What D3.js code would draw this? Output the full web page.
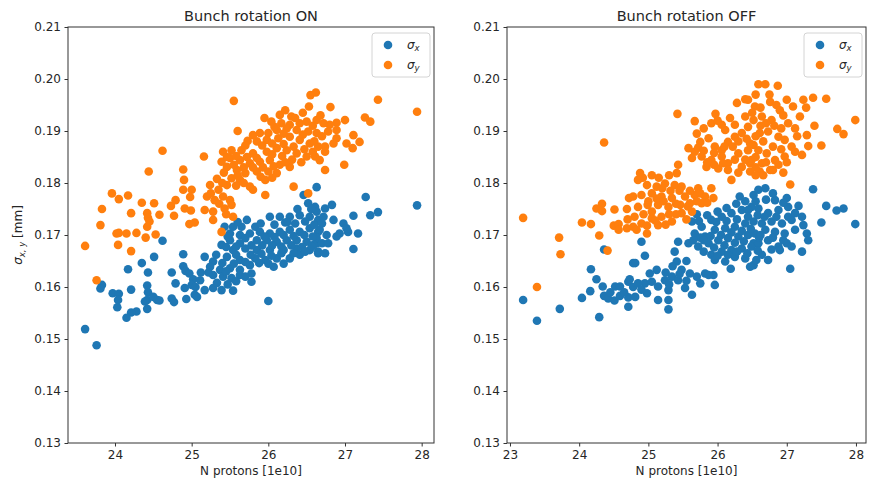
<!DOCTYPE html>
<html>
<head>
<meta charset="utf-8">
<script src="https://cdn.jsdelivr.net/npm/d3@7"></script>
<style>
  html, body { margin: 0; padding: 0; background: #fff; }
  svg { display: block; font-family: "DejaVu Sans", sans-serif; }
</style>
</head>
<body>
<svg id="fig" width="869" height="483"></svg>
<script>
// Beam size vs bunch intensity, [N protons (1e10), sigma (mm)]
const onSigmaX = [
  [24.62,0.1689],[24.51,0.1658],[24.89,0.1663],[24.35,0.1646],[24.17,0.1634],[24.43,0.1628],[24.74,0.1628],[24.89,0.1640],[24.92,0.1631],[24.97,0.1626],[25.02,0.1615],[25.00,0.1604],[24.79,0.1607],[23.83,0.1604],[23.81,0.1597],[23.97,0.1588],[24.05,0.1587],[24.04,0.1575],[24.03,0.1561],[24.21,0.1595],[24.42,0.1603],[24.43,0.1590],[24.42,0.1575],[24.50,0.1581],[24.55,0.1575],[24.58,0.1574],[24.39,0.1572],[24.42,0.1558],[24.74,0.1578],[24.77,0.1571],[24.93,0.1577],[24.91,0.1598],[25.04,0.1585],[24.28,0.1553],[24.21,0.1551],[24.15,0.1541],[23.61,0.1519],[23.76,0.1488],
  [26.63,0.1792],[26.46,0.1777],[26.52,0.1761],[26.61,0.1754],[26.00,0.1573],
  [25.72,0.1729],[25.83,0.1716],[26.02,0.1735],[26.15,0.1735],[26.28,0.1735],[26.41,0.1738],[26.54,0.1735],[26.65,0.1729],[25.43,0.1716],[25.54,0.1716],[25.65,0.1716],[25.50,0.1703],[25.63,0.1700],[25.76,0.1703],[25.89,0.1706],[26.02,0.1703],[26.15,0.1706],[26.28,0.1710],[26.41,0.1706],[26.54,0.1713],[26.65,0.1706],[25.39,0.1681],[25.50,0.1690],[25.63,0.1684],[25.85,0.1690],[25.98,0.1690],[26.11,0.1687],[26.24,0.1690],[26.37,0.1690],[26.50,0.1687],[26.63,0.1684],[25.54,0.1671],[25.70,0.1674],[25.85,0.1671],[26.02,0.1671],[26.20,0.1671],[26.37,0.1674],[26.54,0.1671],[26.65,0.1665],[25.17,0.1658],[25.28,0.1649],[25.46,0.1658],[25.63,0.1652],[25.83,0.1655],[25.96,0.1652],[26.11,0.1655],[26.28,0.1655],[26.41,0.1662],[26.07,0.1639],[25.24,0.1639],[25.37,0.1633],[25.50,0.1636],[25.63,0.1633],[25.76,0.1642],[25.28,0.1623],[25.41,0.1620],[25.52,0.1617],[25.63,0.1623],[25.11,0.1613],[25.78,0.1626],[25.78,0.1610],[25.17,0.1594],[25.28,0.1598],[25.39,0.1594],[25.54,0.1593],[25.07,0.1581],
  [27.27,0.1773],[27.94,0.1757],[27.33,0.1738],[27.43,0.1744],[27.11,0.1737],[26.83,0.1758],[26.74,0.1751],[26.63,0.1745],[26.85,0.1729],[26.98,0.1722],[27.02,0.1713],[26.93,0.1703],[27.04,0.1706],[27.17,0.1703],[26.89,0.1697],[26.72,0.1735],[26.67,0.1710],[26.76,0.1700],[26.63,0.1694],[26.70,0.1684],[26.78,0.1684],[26.59,0.1681],[26.65,0.1668],[26.74,0.1665],[27.11,0.1673],
  [25.60,0.1725],[25.90,0.1722],[26.08,0.1720],[26.22,0.1724],[26.35,0.1722],[26.48,0.1726],[26.60,0.1720],[25.47,0.1697],[25.70,0.1694],[25.95,0.1697],[26.08,0.1696],[26.20,0.1700],[26.33,0.1698],[26.47,0.1700],[26.58,0.1697],[25.45,0.1677],[25.58,0.1678],[25.78,0.1680],[25.92,0.1680],[26.05,0.1680],[26.17,0.1678],[26.30,0.1680],[26.44,0.1677],[26.57,0.1678],[25.58,0.1662],[25.77,0.1662],[25.91,0.1664],[26.04,0.1660],[26.17,0.1665],[26.33,0.1665],[26.48,0.1668],[25.32,0.1662],[25.40,0.1646],[25.55,0.1645],[25.70,0.1648],[25.88,0.1646],[26.00,0.1645],[26.20,0.1645],[25.22,0.1628],[25.45,0.1630],[25.58,0.1611],[25.70,0.1620],[25.33,0.1608],[25.47,0.1605],[25.05,0.1600],[25.12,0.1628],[26.25,0.1725],[26.56,0.1750],[26.70,0.1722],[26.38,0.1750]
];
const onSigmaY = [
  [24.62,0.1862],[24.44,0.1822],[24.89,0.1826],[24.90,0.1806],[24.89,0.1787],[25.00,0.1787],[24.98,0.1773],[23.96,0.1780],[24.05,0.1769],[24.17,0.1776],[23.83,0.1750],[24.21,0.1742],[24.35,0.1762],[24.51,0.1761],[24.42,0.1742],[24.43,0.1733],[24.42,0.1716],[24.45,0.1726],[24.58,0.1739],[24.77,0.1737],[24.73,0.1756],[24.79,0.1767],[24.91,0.1751],[24.99,0.1747],[24.97,0.1721],[25.04,0.1724],[23.81,0.1719],[24.02,0.1703],[24.05,0.1704],[24.15,0.1703],[24.28,0.1704],[24.40,0.1695],[24.53,0.1701],[23.61,0.1679],[24.04,0.1681],[24.21,0.1669],[23.76,0.1613],
  [25.55,0.1958],[26.55,0.1969],[26.62,0.1974],[26.53,0.1947],[25.60,0.1900],[25.73,0.1881],[25.16,0.1851],
  [26.15,0.1931],[26.30,0.1928],[26.04,0.1918],[26.17,0.1915],[26.28,0.1912],[26.41,0.1915],[26.50,0.1918],[26.63,0.1921],[25.89,0.1896],[26.00,0.1896],[26.11,0.1902],[26.24,0.1905],[26.37,0.1902],[26.52,0.1899],[26.63,0.1896],[25.85,0.1880],[25.98,0.1883],[26.13,0.1886],[26.28,0.1889],[26.41,0.1883],[26.54,0.1876],[26.65,0.1870],[25.98,0.1860],[26.11,0.1867],[26.24,0.1863],[26.37,0.1857],[26.50,0.1851],[26.61,0.1851],[25.41,0.1860],[25.52,0.1863],[25.65,0.1863],[25.80,0.1857],[25.50,0.1848],[25.63,0.1844],[25.76,0.1838],[25.89,0.1841],[26.02,0.1844],[26.15,0.1835],[26.28,0.1831],[26.00,0.1822],[26.11,0.1819],[25.39,0.1841],[25.46,0.1831],[25.59,0.1825],[25.70,0.1819],[25.85,0.1822],[25.96,0.1806],[26.33,0.1793],[25.52,0.1809],[25.63,0.1806],[25.76,0.1793],[25.80,0.1787],[25.46,0.1796],[25.35,0.1787],[25.24,0.1796],[25.20,0.1774],[25.30,0.1767],[25.41,0.1774],[25.50,0.1767],[25.17,0.1748],[25.28,0.1745],[25.43,0.1751],[25.52,0.1758],[25.54,0.1735],[25.28,0.1729],[25.39,0.1706],[25.96,0.1777],[26.52,0.1780],
  [27.43,0.1960],[27.94,0.1937],[26.81,0.1946],[27.26,0.1926],[27.33,0.1918],[27.00,0.1921],[26.89,0.1916],[26.80,0.1912],[26.72,0.1915],[27.11,0.1892],[27.19,0.1879],[27.10,0.1867],[27.02,0.1876],[26.89,0.1886],[26.85,0.1876],[26.74,0.1870],[26.78,0.1899],[26.89,0.1902],[26.67,0.1844],[26.74,0.1860],[26.74,0.1825],[26.99,0.1835],
  [25.95,0.1925],[26.22,0.1940],[26.45,0.1935],[26.35,0.1925],[26.08,0.1908],[26.20,0.1895],[26.45,0.1893],[26.58,0.1910],[25.80,0.1892],[25.92,0.1872],[26.05,0.1876],[26.20,0.1875],[26.33,0.1870],[26.47,0.1865],[26.58,0.1860],[25.70,0.1872],[25.58,0.1852],[25.72,0.1850],[25.85,0.1848],[26.05,0.1855],[26.18,0.1852],[26.31,0.1845],[26.43,0.1840],[25.46,0.1850],[25.55,0.1835],[25.68,0.1830],[25.80,0.1830],[25.93,0.1830],[26.07,0.1832],[26.22,0.1840],[25.42,0.1820],[25.60,0.1815],[25.90,0.1812],[26.05,0.1810],[25.33,0.1808],[25.40,0.1800],[25.58,0.1795],[25.68,0.1800],[25.25,0.1780],[25.36,0.1760],[25.45,0.1740],[26.70,0.1890],[26.60,0.1880],[26.68,0.1930]
];
const offSigmaX = [
  [23.19,0.1575],[23.39,0.1535],[23.72,0.1558],[24.29,0.1542],[24.36,0.1672],[24.17,0.1634],[24.25,0.1615],[24.16,0.1592],[24.04,0.1579],[24.34,0.1601],[24.36,0.1583],[24.42,0.1578],[24.51,0.1574],[24.59,0.1583],[24.52,0.1601],[24.59,0.1601],[24.71,0.1580],[24.71,0.1610],[24.73,0.1615],[24.78,0.1646],[24.78,0.1600],
  [26.32,0.1774],[26.52,0.1777],[25.43,0.1687],[24.90,0.1687],[24.95,0.1660],[24.81,0.1646],[26.19,0.1635],[25.29,0.1575],[25.29,0.1557],[25.63,0.1585],[25.82,0.1626],[25.94,0.1623],[25.96,0.1604],[24.71,0.1562],
  [25.63,0.1726],[25.77,0.1716],[25.91,0.1729],[26.06,0.1735],[26.20,0.1742],[26.35,0.1748],[26.49,0.1754],[25.67,0.1703],[25.82,0.1697],[25.96,0.1710],[26.11,0.1713],[26.25,0.1716],[26.40,0.1722],[26.52,0.1726],[25.58,0.1684],[25.72,0.1678],[25.87,0.1684],[26.01,0.1690],[26.15,0.1694],[26.30,0.1697],[26.44,0.1700],[26.52,0.1684],[25.91,0.1662],[26.06,0.1668],[26.20,0.1671],[26.35,0.1674],[26.49,0.1678],[25.96,0.1652],[26.11,0.1649],[26.25,0.1658],[26.40,0.1655],[26.52,0.1642],[25.38,0.1668],[25.41,0.1649],[25.48,0.1633],[25.34,0.1620],[25.24,0.1613],[25.12,0.1633],[25.02,0.1626],[24.95,0.1607],[24.85,0.1607],[25.14,0.1601],[25.43,0.1613],[25.60,0.1626],[25.75,0.1607],[25.87,0.1623],[25.53,0.1598],[25.29,0.1594],[24.98,0.1588],[24.81,0.1581],[25.14,0.1575],
  [27.38,0.1788],[27.05,0.1635],[27.99,0.1721],[27.50,0.1724],[27.57,0.1756],[27.72,0.1747],[27.82,0.1751],[27.22,0.1668],[26.47,0.1639],[26.59,0.1787],[26.69,0.1790],[26.83,0.1767],[27.00,0.1771],[27.17,0.1756],[27.02,0.1754],[27.22,0.1735],[27.24,0.1719],[27.29,0.1703],[27.31,0.1690],
  [26.44,0.1748],[26.59,0.1751],[26.73,0.1742],[26.88,0.1748],[27.02,0.1735],[26.64,0.1722],[26.78,0.1726],[26.93,0.1722],[27.07,0.1729],[26.54,0.1703],[26.69,0.1710],[26.83,0.1706],[26.97,0.1703],[27.12,0.1710],[26.59,0.1684],[26.73,0.1690],[26.88,0.1678],[27.00,0.1684],[26.64,0.1662],[26.73,0.1652],[26.90,0.1671],[27.07,0.1678],
  [25.70,0.1740],[25.85,0.1738],[26.00,0.1745],[26.13,0.1752],[26.27,0.1760],[26.40,0.1765],[26.55,0.1765],[25.73,0.1727],[25.98,0.1725],[26.13,0.1727],[26.28,0.1730],[26.44,0.1735],[26.58,0.1738],[25.75,0.1695],[25.90,0.1698],[26.05,0.1700],[26.20,0.1705],[26.35,0.1708],[26.48,0.1712],[25.65,0.1690],[25.80,0.1690],[25.95,0.1676],[26.10,0.1680],[26.25,0.1685],[26.38,0.1688],[26.60,0.1695],[25.80,0.1668],[26.00,0.1660],[26.15,0.1662],[26.28,0.1668],[26.43,0.1665],[26.58,0.1670],[26.80,0.1695],[26.95,0.1690],[26.68,0.1735],[26.85,0.1735],[26.95,0.1762],[26.70,0.1768],[26.80,0.1780],[27.12,0.1742],[26.62,0.1700],[26.78,0.1672],[26.56,0.1652],[25.25,0.1628],[25.45,0.1625],[25.55,0.1612],[25.05,0.1610],[25.30,0.1605],[24.90,0.1595],[24.65,0.1590],[24.45,0.1590],[25.70,0.1620],[25.35,0.1640],[25.55,0.1650]
];
const offSigmaY = [
  [24.36,0.1878],[23.19,0.1733],[23.71,0.1695],[23.73,0.1663],[23.39,0.1600],[24.25,0.1751],[24.33,0.1760],[24.33,0.1746],[24.51,0.1749],[24.69,0.1750],[24.72,0.1771],[24.78,0.1774],[24.04,0.1724],[24.17,0.1721],[24.29,0.1699],[24.41,0.1670],[24.50,0.1718],[24.57,0.1721],[24.57,0.1710],[24.69,0.1713],[24.78,0.1716],
  [25.42,0.1933],[25.67,0.1919],[25.97,0.1933],[26.28,0.1954],[26.40,0.1961],[26.06,0.1912],
  [25.58,0.1867],[25.67,0.1860],[25.75,0.1879],[25.87,0.1886],[25.96,0.1870],[26.06,0.1863],[26.15,0.1879],[26.25,0.1889],[26.35,0.1896],[26.44,0.1908],[26.52,0.1921],[25.63,0.1848],[25.77,0.1851],[25.91,0.1844],[26.06,0.1851],[26.15,0.1838],[26.30,0.1857],[26.44,0.1863],[26.52,0.1873],[25.84,0.1831],[26.01,0.1828],[26.15,0.1825],[26.35,0.1831],[26.47,0.1838],[26.20,0.1806],[26.40,0.1928],[26.25,0.1912],[26.11,0.1902],[25.91,0.1915],
  [24.88,0.1819],[24.85,0.1806],[24.98,0.1796],[25.12,0.1793],[25.24,0.1799],[25.38,0.1796],[25.48,0.1793],[25.43,0.1835],[25.41,0.1819],[24.90,0.1777],[25.05,0.1780],[25.19,0.1774],[25.34,0.1771],[25.53,0.1774],[25.67,0.1777],[25.82,0.1774],[25.94,0.1771],[25.91,0.1790],[25.72,0.1790],[24.85,0.1754],[24.99,0.1758],[25.14,0.1758],[25.29,0.1754],[25.46,0.1758],[25.60,0.1761],[25.77,0.1761],[24.90,0.1722],[25.05,0.1732],[25.19,0.1735],[25.34,0.1726],[25.48,0.1742],[25.63,0.1745],[24.83,0.1710],[24.98,0.1703],[25.14,0.1719],
  [26.59,0.1990],[26.69,0.1990],[26.87,0.1987],[27.24,0.1960],[27.38,0.1964],[27.57,0.1962],[27.99,0.1921],[27.73,0.1904],[27.82,0.1894],[27.50,0.1872],[27.22,0.1854],[27.29,0.1892],[27.31,0.1871],[27.00,0.1960],[27.09,0.1947],[27.19,0.1928],
  [26.44,0.1960],[26.54,0.1947],[26.76,0.1956],[26.85,0.1950],[26.90,0.1940],[26.64,0.1928],[26.78,0.1921],[27.02,0.1915],[27.12,0.1905],[26.61,0.1896],[26.73,0.1899],[26.88,0.1889],[26.97,0.1883],[27.07,0.1870],[26.47,0.1876],[26.59,0.1863],[26.71,0.1857],[26.83,0.1844],[26.97,0.1851],[26.49,0.1844],[26.64,0.1838],[26.76,0.1825],[26.47,0.1822],[26.61,0.1822],[26.80,0.1825],[27.05,0.1797],
  [25.72,0.1868],[25.80,0.1862],[25.95,0.1858],[26.10,0.1870],[26.22,0.1870],[26.30,0.1880],[26.42,0.1885],[26.55,0.1890],[26.62,0.1910],[26.50,0.1935],[26.62,0.1945],[26.70,0.1915],[26.82,0.1910],[26.95,0.1930],[26.92,0.1905],[26.66,0.1880],[26.80,0.1870],[26.92,0.1865],[26.55,0.1850],[26.40,0.1845],[26.25,0.1845],[26.08,0.1838],[25.95,0.1835],[25.85,0.1840],[26.30,0.1820],[26.55,0.1830],[26.70,0.1840],[26.88,0.1835],[27.00,0.1840],[26.66,0.1815],[26.55,0.1815],[26.95,0.1820],[25.70,0.1895],[25.80,0.1905],[26.18,0.1925],[26.00,0.1920],[26.55,0.1970],[26.75,0.1970],[27.15,0.1890],[27.12,0.1860],[27.40,0.1910],[27.28,0.1945],
  [24.92,0.1810],[25.05,0.1815],[25.15,0.1810],[25.30,0.1815],[25.32,0.1785],[25.12,0.1770],[25.00,0.1765],[24.93,0.1740],[25.05,0.1745],[25.22,0.1765],[25.40,0.1760],[25.57,0.1755],[25.70,0.1765],[25.85,0.1762],[25.40,0.1740],[25.55,0.1730],[25.30,0.1740],[25.10,0.1728],[24.98,0.1718],[25.25,0.1720],[25.45,0.1785],[25.60,0.1785],[25.75,0.1780],[24.80,0.1735],[24.70,0.1730],[25.20,0.1790]
];

const panelTitles = ["Bunch rotation ON", "Bunch rotation OFF"];
const onTicksX = [24, 25, 26, 27, 28];
const offTicksX = [23, 24, 25, 26, 27, 28];
const sigmaTicks = [0.13, 0.14, 0.15, 0.16, 0.17, 0.18, 0.19, 0.20, 0.21];
const seriesColors = ["#1f77b4", "#ff7f0e"];

const svg = d3.select("#fig");
const plotTop = 27, plotBottom = 443;
const textColor = "#262626";

function drawPanel(cfg) {
  const x = d3.scaleLinear().domain(cfg.xDomain).range([cfg.left, cfg.right]);
  const y = d3.scaleLinear().domain([0.13, 0.21]).range([plotBottom, plotTop]);
  const g = svg.append("g");

  // markers: sigma_x first, sigma_y on top
  [cfg.sx, cfg.sy].forEach((data, i) => {
    g.append("g").selectAll("circle").data(data).join("circle")
      .attr("cx", d => x(d[0])).attr("cy", d => y(d[1]))
      .attr("r", 4.3).attr("fill", seriesColors[i]);
  });

  // frame
  g.append("rect").attr("x", cfg.left).attr("y", plotTop)
    .attr("width", cfg.right - cfg.left).attr("height", plotBottom - plotTop)
    .attr("fill", "none").attr("stroke", "#333").attr("stroke-width", 1);

  const xAxis = d3.axisBottom(x).tickValues(cfg.xTicks).tickFormat(d3.format("d"))
    .tickSize(3.5).tickPadding(3.5);
  const yAxis = d3.axisLeft(y).tickValues(sigmaTicks).tickFormat(d3.format(".2f"))
    .tickSize(3.5).tickPadding(3.5);

  const gx = g.append("g").attr("transform", `translate(0,${plotBottom})`).call(xAxis);
  const gy = g.append("g").attr("transform", `translate(${cfg.left},0)`).call(yAxis);
  [gx, gy].forEach(a => {
    a.select(".domain").remove();
    a.selectAll("line").attr("stroke", "#333");
    a.selectAll("text").attr("fill", textColor).style("font-size", "12px")
      .style("font-family", "DejaVu Sans, sans-serif");
  });

  const cx = (cfg.left + cfg.right) / 2;
  g.append("text").attr("x", cx).attr("y", 21).attr("text-anchor", "middle")
    .attr("fill", textColor).style("font-size", "14.5px").text(cfg.title);
  g.append("text").attr("x", cx).attr("y", 475).attr("text-anchor", "middle")
    .attr("fill", textColor).style("font-size", "12px").text("N protons [1e10]");

  // legend
  const lx = cfg.right - 62, ly = plotTop + 6;
  const lg = g.append("g");
  lg.append("rect").attr("x", lx).attr("y", ly).attr("width", 58).attr("height", 44)
    .attr("rx", 3).attr("fill", "#fff").attr("fill-opacity", 0.8)
    .attr("stroke", "#d4d4d4").attr("stroke-width", 1);
  ["x", "y"].forEach((sub, i) => {
    const yy = ly + 12 + i * 20;
    lg.append("circle").attr("cx", lx + 16).attr("cy", yy).attr("r", 4.3).attr("fill", seriesColors[i]);
    const t = lg.append("text").attr("x", lx + 35).attr("y", yy + 4)
      .attr("fill", textColor).style("font-size", "12px");
    t.append("tspan").style("font-style", "italic").text("σ");
    t.append("tspan").attr("dy", 2).style("font-size", "8.5px").style("font-style", "italic").text(sub);
  });
}

drawPanel({ left: 68, right: 434, xDomain: [23.387, 28.161], xTicks: onTicksX,
  sx: onSigmaX, sy: onSigmaY, title: panelTitles[0] });
drawPanel({ left: 507, right: 866, xDomain: [22.957, 28.145], xTicks: offTicksX,
  sx: offSigmaX, sy: offSigmaY, title: panelTitles[1] });

// shared y label
const yl = svg.append("text").attr("transform", "translate(22,235) rotate(-90)")
  .attr("text-anchor", "middle").attr("fill", textColor).style("font-size", "12px");
yl.append("tspan").style("font-style", "italic").text("σ");
yl.append("tspan").attr("dy", 2.5).style("font-size", "8.5px").style("font-style", "italic").text("x, y");
yl.append("tspan").attr("dy", -2.5).text(" [mm]");
</script>
</body>
</html>
